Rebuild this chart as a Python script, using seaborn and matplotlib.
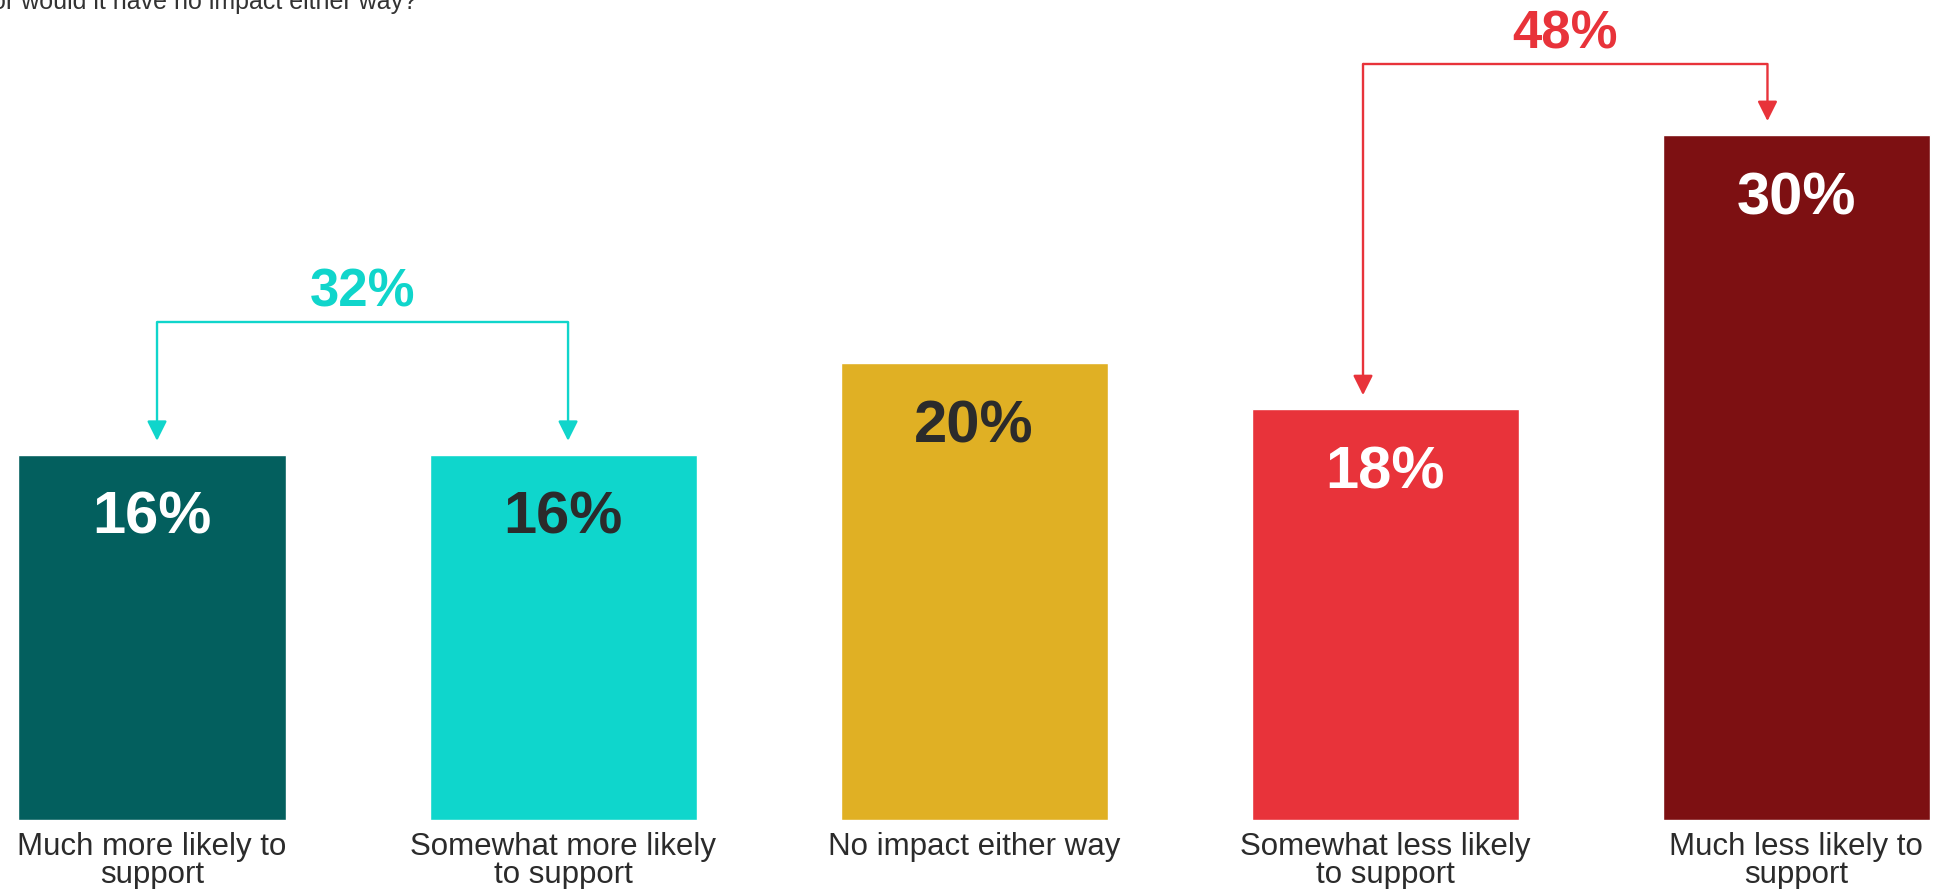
import matplotlib
matplotlib.use("Agg")
import matplotlib.pyplot as plt
import seaborn as sns
import pandas as pd

# ---- data ----
categories = ["Much more likely to\nsupport", "Somewhat more likely\nto support",
              "No impact either way", "Somewhat less likely\nto support",
              "Much less likely to\nsupport"]
values = [16, 16, 20, 18, 30]
bar_colors = ["#035f5e", "#0fd6cc", "#e0b024", "#e8333a", "#7d1012"]
label_colors = ["white", "#2b2b2b", "#2b2b2b", "white", "white"]

# net brackets: (left bar, right bar, total, colour)
nets = [(0, 1, 32, "#10d5cb"), (3, 4, 48, "#e8333a")]

sns.set_style("white")
plt.rcParams["font.family"] = ["Liberation Sans", "DejaVu Sans"]

df = pd.DataFrame({"category": categories, "value": values})

fig = plt.figure(figsize=(19.36, 8.89), dpi=100)
ax = fig.add_axes([0, 69 / 889, 1, 820 / 889])

sns.barplot(data=df, x="category", y="value", hue="category",
            palette=bar_colors, width=0.65, legend=False, saturation=1, ax=ax)

ax.set_xlim(-0.37, 4.34)
ax.set_ylim(0, 35.9)
ax.set_xlabel("")
ax.set_ylabel("")
ax.set_yticks([])
ax.tick_params(axis="x", length=0, pad=9)
for lab in ax.get_xticklabels():
    lab.set_fontsize(22.5)
    lab.set_color("#2b2b2b")
    lab.set_linespacing(0.88)
for s in ax.spines.values():
    s.set_visible(False)

# value labels inside bars
for i, v in enumerate(values):
    ax.text(i, v - 2.8, f"{v}%", ha="center", va="center", fontsize=43,
            fontweight="bold", color=label_colors[i])

# bracket annotations
for left, right, total, col in nets:
    top = max(values[left], values[right])
    hy = top + (5.8 if left == 0 else 3.1)
    xl = left + (0.012 if left == 0 else -0.054)
    xr = right + (0.012 if left == 0 else -0.07)
    ax.plot([xl, xr], [hy, hy], color=col, lw=1.7, solid_capstyle="butt")
    for x, b in ((xl, values[left]), (xr, values[right])):
        ax.annotate("", xy=(x, b + 0.6), xytext=(x, hy),
                    arrowprops=dict(arrowstyle="-|>", color=col, lw=1.7,
                                    mutation_scale=30, shrinkA=0, shrinkB=0))
    ax.text((xl + xr) / 2, hy + 1.3, f"{total}%", ha="center", va="center",
            fontsize=38, fontweight="bold", color=col)

# question text cut off at the top edge, as in the source
fig.text(-0.004, 1 - 9 / 889, "or would it have no impact either way?",
         ha="left", va="baseline", fontsize=18, color="#333333")

fig.savefig("out.png", dpi=100)
